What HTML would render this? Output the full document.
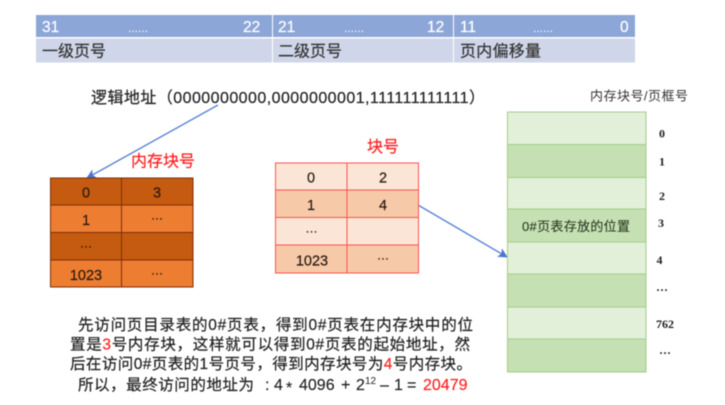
<!DOCTYPE html>
<html>
<head>
<meta charset="utf-8">
<style>
html,body{margin:0;padding:0;background:#fff;width:725px;height:405px;overflow:hidden}
svg{display:block;filter:blur(.4px)}
text{font-family:"Liberation Sans","Noto Sans CJK SC",sans-serif;fill:#222;stroke:#222;stroke-width:.2px}
.w{fill:#fff;stroke:#fff;font-size:15.5px}
.d{font-size:12px;fill:#fff;stroke:none}
.m{text-anchor:middle;font-size:14.5px;fill:#2a1a10;stroke:#2a1a10}
.p{font-size:12px}
.s{font-family:"Liberation Serif","Noto Serif CJK SC",serif;font-weight:bold;font-size:12px;fill:#222;stroke:none}
.r{fill:#ff2020;stroke:#ff2020}
.t{font-size:15.5px}
.n{font-size:16px;stroke-width:.15px}
</style>
</head>
<body>
<svg width="725" height="405" viewBox="0 0 725 405" xmlns="http://www.w3.org/2000/svg">
<defs>
<marker id="a" viewBox="0 0 10 10" refX="9" refY="5" markerWidth="7" markerHeight="7" orient="auto-start-reverse"><path d="M0 0L10 5L0 10L2.5 5Z" fill="#4a76cf"/></marker>
</defs>

<!-- top table -->
<rect x="36" y="15" width="236" height="22" fill="#8da6d8"/>
<rect x="273" y="15" width="180" height="22" fill="#8da6d8"/>
<rect x="454" y="15" width="181" height="22" fill="#8da6d8"/>
<rect x="36" y="38.5" width="236" height="24" fill="#cfd6e9"/>
<rect x="273" y="38.5" width="180" height="24" fill="#cfd6e9"/>
<rect x="454" y="38.5" width="181" height="24" fill="#cfd6e9"/>
<text class="w" x="42" y="32">31</text>
<text class="d" x="128" y="32">......</text>
<text class="w" x="243" y="32">22</text>
<text class="w" x="278" y="32">21</text>
<text class="d" x="344" y="32">......</text>
<text class="w" x="427" y="32">12</text>
<text class="w" x="460" y="32">11</text>
<text class="d" x="533" y="32">......</text>
<text class="w" x="620" y="32">0</text>
<text x="42" y="56.5" font-size="16" textLength="64" style="fill:#333;stroke:#333">一级页号</text>
<text x="278" y="56.5" font-size="16" textLength="64" style="fill:#333;stroke:#333">二级页号</text>
<text x="460" y="56.5" font-size="16" textLength="81" style="fill:#333;stroke:#333">页内偏移量</text>

<!-- logical address -->
<text x="91" y="103" font-size="16" textLength="394" lengthAdjust="spacing">逻辑地址（0000000000,0000000001,111111111111）</text>
<text x="590" y="100.5" font-size="13" textLength="98" style="fill:#333;stroke:none">内存块号/页框号</text>

<!-- arrows -->
<line x1="218" y1="105" x2="87" y2="178" stroke="#5b84d6" stroke-width="1.4" marker-end="url(#a)"/>
<line x1="418" y1="205" x2="507" y2="257" stroke="#5b84d6" stroke-width="1.4" marker-end="url(#a)"/>

<!-- red titles -->
<text class="r" x="131" y="166.5" font-size="16" textLength="64">内存块号</text>
<text class="r" x="367" y="152" font-size="16" textLength="32">块号</text>

<!-- left table -->
<rect x="50.5" y="178" width="142.5" height="27" fill="#c55a11"/>
<rect x="50.5" y="205" width="142.5" height="27.5" fill="#ed7d31"/>
<rect x="50.5" y="232.5" width="142.5" height="27.5" fill="#c55a11"/>
<rect x="50.5" y="260" width="142.5" height="27" fill="#ed7d31"/>
<g stroke="#7f2f05" stroke-width="1" fill="none">
<rect x="50.5" y="178" width="142.5" height="109"/>
<line x1="121.5" y1="178" x2="121.5" y2="287"/>
<line x1="50.5" y1="205" x2="193" y2="205"/>
<line x1="50.5" y1="232.5" x2="193" y2="232.5"/>
<line x1="50.5" y1="260" x2="193" y2="260"/>
</g>
<text class="m" x="86" y="197.5">0</text>
<text class="m" x="157" y="197.5">3</text>
<text class="m" x="86" y="225">1</text>
<text class="m p" x="157" y="222">···</text>
<text class="m p" x="86" y="250">···</text>
<text class="m" x="86" y="280">1023</text>
<text class="m p" x="157" y="277">···</text>

<!-- middle table -->
<rect x="275.5" y="163" width="143" height="27" fill="#fbe5d6"/>
<rect x="275.5" y="190" width="143" height="27.5" fill="#f6c9a8"/>
<rect x="275.5" y="217.5" width="143" height="27.5" fill="#fbe5d6"/>
<rect x="275.5" y="245" width="143" height="28" fill="#f6c9a8"/>
<g stroke="#ff5050" stroke-width="1" fill="none">
<rect x="275.5" y="163" width="143" height="110"/>
<line x1="347" y1="163" x2="347" y2="273"/>
<line x1="275.5" y1="190" x2="418.5" y2="190"/>
<line x1="275.5" y1="217.5" x2="418.5" y2="217.5"/>
<line x1="275.5" y1="245" x2="418.5" y2="245"/>
</g>
<text class="m" x="311" y="182.5">0</text>
<text class="m" x="383" y="182.5">2</text>
<text class="m" x="311" y="210">1</text>
<text class="m" x="383" y="210">4</text>
<text class="m p" x="311.5" y="235">···</text>
<text class="m" x="312" y="265.5">1023</text>
<text class="m p" x="383" y="262">···</text>

<!-- right column -->
<rect x="507.5" y="112" width="138.5" height="32.5" fill="#e2efd9"/>
<rect x="507.5" y="144.5" width="138.5" height="33" fill="#c5e0b3"/>
<rect x="507.5" y="177.5" width="138.5" height="31.5" fill="#e2efd9"/>
<rect x="507.5" y="209" width="138.5" height="33" fill="#c5e0b3"/>
<rect x="507.5" y="242" width="138.5" height="32" fill="#e2efd9"/>
<rect x="507.5" y="274" width="138.5" height="33" fill="#c5e0b3"/>
<rect x="507.5" y="307" width="138.5" height="32" fill="#e2efd9"/>
<rect x="507.5" y="339" width="138.5" height="33" fill="#c5e0b3"/>
<g stroke="#a3cd8a" stroke-width="1" fill="none">
<rect x="507.5" y="112" width="138.5" height="260"/>
<line x1="507.5" y1="144.5" x2="646" y2="144.5"/>
<line x1="507.5" y1="177.5" x2="646" y2="177.5"/>
<line x1="507.5" y1="209" x2="646" y2="209"/>
<line x1="507.5" y1="242" x2="646" y2="242"/>
<line x1="507.5" y1="274" x2="646" y2="274"/>
<line x1="507.5" y1="307" x2="646" y2="307"/>
<line x1="507.5" y1="339" x2="646" y2="339"/>
</g>
<text x="522" y="231" font-size="13" textLength="108" style="fill:#2b3a22;stroke:#2b3a22;stroke-width:.1px">0#页表存放的位置</text>
<text class="s" x="659" y="137.5">0</text>
<text class="s" x="659" y="165.5">1</text>
<text class="s" x="659" y="200">2</text>
<text class="s" x="658" y="227">3</text>
<text class="s" x="656.5" y="264">4</text>
<text class="s" x="656" y="294">···</text>
<text class="s" x="656" y="328" font-size="12.5">762</text>
<text class="s" x="659" y="357">···</text>

<!-- description -->
<text class="t" x="78" y="330" textLength="395">先访问页目录表的0#页表，得到0#页表在内存块中的位</text>
<text class="t" x="70" y="349.5" textLength="400">置是<tspan class="r">3</tspan>号内存块，这样就可以得到0#页表的起始地址，然</text>
<text class="t" x="70" y="369" textLength="402">后在访问0#页表的1号页号，得到内存块号为<tspan class="r">4</tspan>号内存块。</text>
<text class="t" x="78" y="390" textLength="176">所以，最终访问的地址为</text>
<text class="n" x="265" y="390">:</text>
<text class="n" x="274" y="390">4</text>
<text class="n" x="286" y="393">*</text>
<text class="n" x="299" y="390">4096</text>
<text class="n" x="341" y="390">+</text>
<text class="n" x="356" y="390">2</text>
<text x="365" y="384" font-size="10" style="stroke:none">12</text>
<text class="n" x="380" y="390">–</text>
<text class="n" x="394" y="390">1</text>
<text class="n" x="407" y="390">=</text>
<text class="n r" x="423" y="390">20479</text>
</svg>
</body>
</html>
